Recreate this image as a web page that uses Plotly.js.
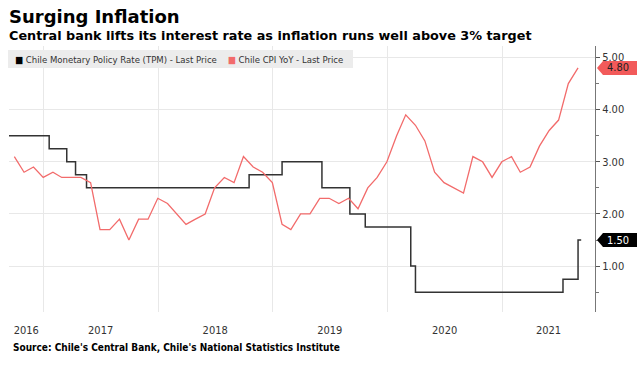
<!DOCTYPE html>
<html>
<head>
<meta charset="utf-8">
<script src="https://cdn.plot.ly/plotly-3.0.1.min.js"></script>
<style>html,body{margin:0;padding:0;background:#fff}#chart{width:637px;height:368px}</style>
</head>
<body>
<div id="chart"></div>
<script>
// CPI YoY (%), monthly, end of month
var cpiDates = ['2016-09-30','2016-10-31','2016-11-30','2016-12-31',
  '2017-01-31','2017-02-28','2017-03-31','2017-04-30','2017-05-31','2017-06-30','2017-07-31','2017-08-31','2017-09-30','2017-10-31','2017-11-30','2017-12-31',
  '2018-01-31','2018-02-28','2018-03-31','2018-04-30','2018-05-31','2018-06-30','2018-07-31','2018-08-31','2018-09-30','2018-10-31','2018-11-30','2018-12-31',
  '2019-01-31','2019-02-28','2019-03-31','2019-04-30','2019-05-31','2019-06-30','2019-07-31','2019-08-31','2019-09-30','2019-10-31','2019-11-30','2019-12-31',
  '2020-01-31','2020-02-29','2020-03-31','2020-04-30','2020-05-31','2020-06-30','2020-07-31','2020-08-31','2020-09-30','2020-10-31','2020-11-30','2020-12-31',
  '2021-01-31','2021-02-28','2021-03-31','2021-04-30','2021-05-31','2021-06-30','2021-07-31','2021-08-31'];
var cpiValues = [3.1,2.8,2.9,2.7,
  2.8,2.7,2.7,2.7,2.6,1.7,1.7,1.9,1.5,1.9,1.9,2.3,
  2.2,2.0,1.8,1.9,2.0,2.5,2.7,2.6,3.1,2.9,2.8,2.6,
  1.8,1.7,2.0,2.0,2.3,2.3,2.2,2.3,2.1,2.5,2.7,3.0,
  3.5,3.9,3.7,3.4,2.8,2.6,2.5,2.4,3.1,3.0,2.7,3.0,
  3.1,2.8,2.9,3.3,3.6,3.8,4.5,4.8];

// Monetary policy rate (TPM), change dates
var tpmDates = ['2016-09-01','2017-01-19','2017-03-16','2017-04-13','2017-05-18','2018-10-18','2019-01-31','2019-06-07','2019-09-04','2019-10-23','2020-03-16','2020-03-31','2021-07-14','2021-08-31','2021-09-10'];
var tpmValues = [3.5,3.25,3.0,2.75,2.5,2.75,3.0,2.5,2.0,1.75,1.0,0.5,0.75,1.5,1.5];

var yearLabels = ['2016','2017','2018','2019','2020','2021'];
var yTickVals = [1,2,3,4,5];
var yTickText = ['1.00','2.00','3.00','4.00','5.00'];

var xStart = '2016-09-13', xEnd = '2021-10-24';
var lastCPI = cpiValues[cpiValues.length-1];
var lastTPM = tpmValues[tpmValues.length-1];

// year boundaries (grid) and label centres (visible part of each year)
var t0 = Date.parse(xStart), t1 = Date.parse(xEnd);
var yearStarts = [], labelPos = [];
yearLabels.forEach(function(y){
  var a = Date.parse(y+'-01-01'), b = Date.parse((+y+1)+'-01-01');
  if (a > t0) yearStarts.push(y+'-01-01');
  var c = (Math.max(a,t0)+Math.min(b,t1))/2;
  labelPos.push(new Date(c).toISOString().slice(0,10));
});

var RED = '#f26b6b';
var FONT = 'DejaVu Sans Condensed, DejaVu Sans, sans-serif';
var TFONT = 'DejaVu Sans, sans-serif';

var traces = [
  {x: tpmDates, y: tpmValues, type:'scatter', mode:'lines', line:{shape:'hv', color:'#333333', width:1.5}, hoverinfo:'skip', showlegend:false},
  {x: cpiDates, y: cpiValues, type:'scatter', mode:'lines', line:{color:RED, width:1.3}, hoverinfo:'skip', showlegend:false}
];

var P = function(ypx){ return (312-ypx)/266; };

var layout = {
  width:637, height:368,
  margin:{l:9, r:42, t:46, b:56},
  paper_bgcolor:'#ffffff', plot_bgcolor:'#ffffff',
  showlegend:false,
  font:{family:FONT, size:11, color:'#333'},
  xaxis:{
    type:'date', range:[xStart, xEnd],
    tickmode:'array', tickvals:labelPos, ticktext:yearLabels,
    showgrid:false, zeroline:false, showline:false,
    ticks:'outside', ticklen:8, tickcolor:'rgba(0,0,0,0)',
    tickfont:{family:FONT, size:11, color:'#333'},
    minor:{tickmode:'array', tickvals:yearStarts, showgrid:true, gridcolor:'#e8e8e8', gridwidth:1, ticks:''}
  },
  yaxis:{
    side:'right', range:[0.12,5.22],
    tickmode:'array', tickvals:yTickVals, ticktext:yTickText,
    showgrid:true, gridcolor:'#e8e8e8', gridwidth:1, zeroline:false,
    showline:true, linecolor:'#777', linewidth:1,
    ticks:'outside', ticklen:4, tickcolor:'#555',
    minor:{dtick:0.5, tick0:0, ticks:'outside', ticklen:3, tickcolor:'#777', showgrid:false},
    tickfont:{family:FONT, size:11, color:'#333'}
  },
  shapes:[
    {type:'rect', xref:'paper', yref:'paper', x0:-0.0017, x1:0.587, y0:P(68), y1:P(50), fillcolor:'#ececec', line:{width:0}, layer:'above'},
    {type:'path', xref:'paper', yref:'y', xsizemode:'pixel', ysizemode:'pixel', xanchor:1, yanchor:lastCPI,
     path:'M 2 0 L 8 7 L 42 7 L 42 -7 L 8 -7 Z', fillcolor:'#f25a5a', line:{width:0}, layer:'above'},
    {type:'path', xref:'paper', yref:'y', xsizemode:'pixel', ysizemode:'pixel', xanchor:1, yanchor:lastTPM,
     path:'M 2 0 L 8 7 L 42 7 L 42 -7 L 8 -7 Z', fillcolor:'#000000', line:{width:0}, layer:'above'}
  ],
  annotations:[
    {xref:'paper', yref:'paper', x:0, xshift:-2, y:P(16), xanchor:'left', yanchor:'middle', showarrow:false,
     text:'<b>Surging Inflation</b>', font:{family:TFONT, size:18, color:'#000'}},
    {xref:'paper', yref:'paper', x:0, xshift:-2, y:P(36), xanchor:'left', yanchor:'middle', showarrow:false,
     text:'<b>Central bank lifts its interest rate as inflation runs well above 3% target</b>', font:{family:TFONT, size:12.8, color:'#000'}},
    {xref:'paper', yref:'paper', x:0, xshift:4, y:P(59), xanchor:'left', yanchor:'middle', showarrow:false,
     text:'<span style="color:#000">■</span> Chile Monetary Policy Rate (TPM) - Last Price    <span style="color:'+RED+'">■</span> Chile CPI YoY - Last Price',
     font:{family:FONT, size:9.5, color:'#333'}},
    {xref:'paper', yref:'y', x:1, xshift:10, y:lastCPI, xanchor:'left', yanchor:'middle', showarrow:false,
     text:lastCPI.toFixed(2), font:{family:FONT, size:11, color:'#222'}},
    {xref:'paper', yref:'y', x:1, xshift:10, y:lastTPM, xanchor:'left', yanchor:'middle', showarrow:false,
     text:lastTPM.toFixed(2), font:{family:FONT, size:11, color:'#fff'}},
    {xref:'paper', yref:'paper', x:0, xshift:2, y:P(347), xanchor:'left', yanchor:'middle', showarrow:false,
     text:"<b>Source: Chile's Central Bank, Chile's National Statistics Institute</b>", font:{family:FONT, size:10, color:'#000'}}
  ]
};

Plotly.newPlot('chart', traces, layout, {staticPlot:true, displayModeBar:false});
</script>
</body>
</html>
